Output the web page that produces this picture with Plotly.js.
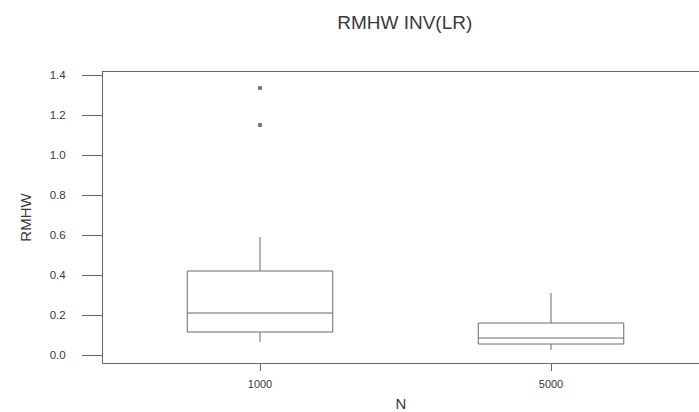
<!DOCTYPE html>
<html>
<head>
<meta charset="utf-8">
<script src="https://cdn.plot.ly/plotly-3.0.1.min.js"></script>
<style>html,body{margin:0;padding:0;background:#fff;}#chart{width:699px;height:412px;}</style>
</head>
<body>
<div id="chart"></div>
<script>
// Data
const categories = ['1000', '5000'];
const lowerWhisker = [0.065, 0.025];
const q1Values = [0.115, 0.055];
const medianValues = [0.21, 0.085];
const q3Values = [0.42, 0.16];
const upperWhisker = [0.59, 0.31];
const outlierGroup = ['1000', '1000'];
const outlierValues = [1.335, 1.15];
const yTicks = [0.0, 0.2, 0.4, 0.6, 0.8, 1.0, 1.2, 1.4];
const yTickLabels = ['0.0', '0.2', '0.4', '0.6', '0.8', '1.0', '1.2', '1.4'];

const pos = categories.map((c, i) => i + 1);
const lineCol = '#6a6a6a';
const textCol = '#3a3a3a';

const traces = categories.map((c, i) => ({
  type: 'box',
  x: [pos[i]],
  q1: [q1Values[i]],
  median: [medianValues[i]],
  q3: [q3Values[i]],
  lowerfence: [lowerWhisker[i]],
  upperfence: [upperWhisker[i]],
  boxpoints: false,
  width: 0.5,
  whiskerwidth: 0,
  line: {color: lineCol, width: 1},
  fillcolor: 'rgba(255,255,255,0)',
  showlegend: false,
  hoverinfo: 'skip'
}));

traces.push({
  type: 'scatter',
  mode: 'markers',
  x: outlierGroup.map(g => categories.indexOf(g) + 1),
  y: outlierValues,
  marker: {color: '#7a7a7a', size: 4.5, symbol: 'circle'},
  showlegend: false,
  hoverinfo: 'skip'
});

const layout = {
  width: 699,
  height: 412,
  margin: {l: 103, r: 0, t: 72, b: 49},
  paper_bgcolor: '#ffffff',
  plot_bgcolor: '#ffffff',
  font: {family: 'Liberation Sans, Arial, sans-serif', color: textCol, size: 11},
  title: {
    text: 'RMHW INV(LR)',
    font: {size: 19, color: textCol},
    xref: 'container', x: 0.579, xanchor: 'center',
    yref: 'container', y: 0.945, yanchor: 'middle'
  },
  xaxis: {
    range: [0.4605, 2.5086],
    tickvals: pos,
    ticktext: categories,
    ticks: 'outside',
    ticklen: 7,
    tickcolor: lineCol,
    ticklabelstandoff: 4,
    showline: true,
    linecolor: lineCol,
    linewidth: 1,
    mirror: true,
    showgrid: false,
    zeroline: false,
    tickfont: {size: 11, color: textCol},
    title: {text: 'N', font: {size: 15, color: textCol}, standoff: 9}
  },
  yaxis: {
    range: [-0.04, 1.415],
    tickvals: yTicks,
    ticktext: yTickLabels,
    ticks: 'outside',
    ticklen: 20,
    tickcolor: lineCol,
    ticklabelstandoff: 14,
    showline: true,
    linecolor: lineCol,
    linewidth: 1,
    mirror: false,
    showgrid: false,
    zeroline: false,
    tickfont: {size: 11.5, color: textCol},
    title: {text: 'RMHW', font: {size: 15, color: textCol}, standoff: 14}
  }
};

Plotly.newPlot('chart', traces, layout, {staticPlot: true, displayModeBar: false});
</script>
</body>
</html>
